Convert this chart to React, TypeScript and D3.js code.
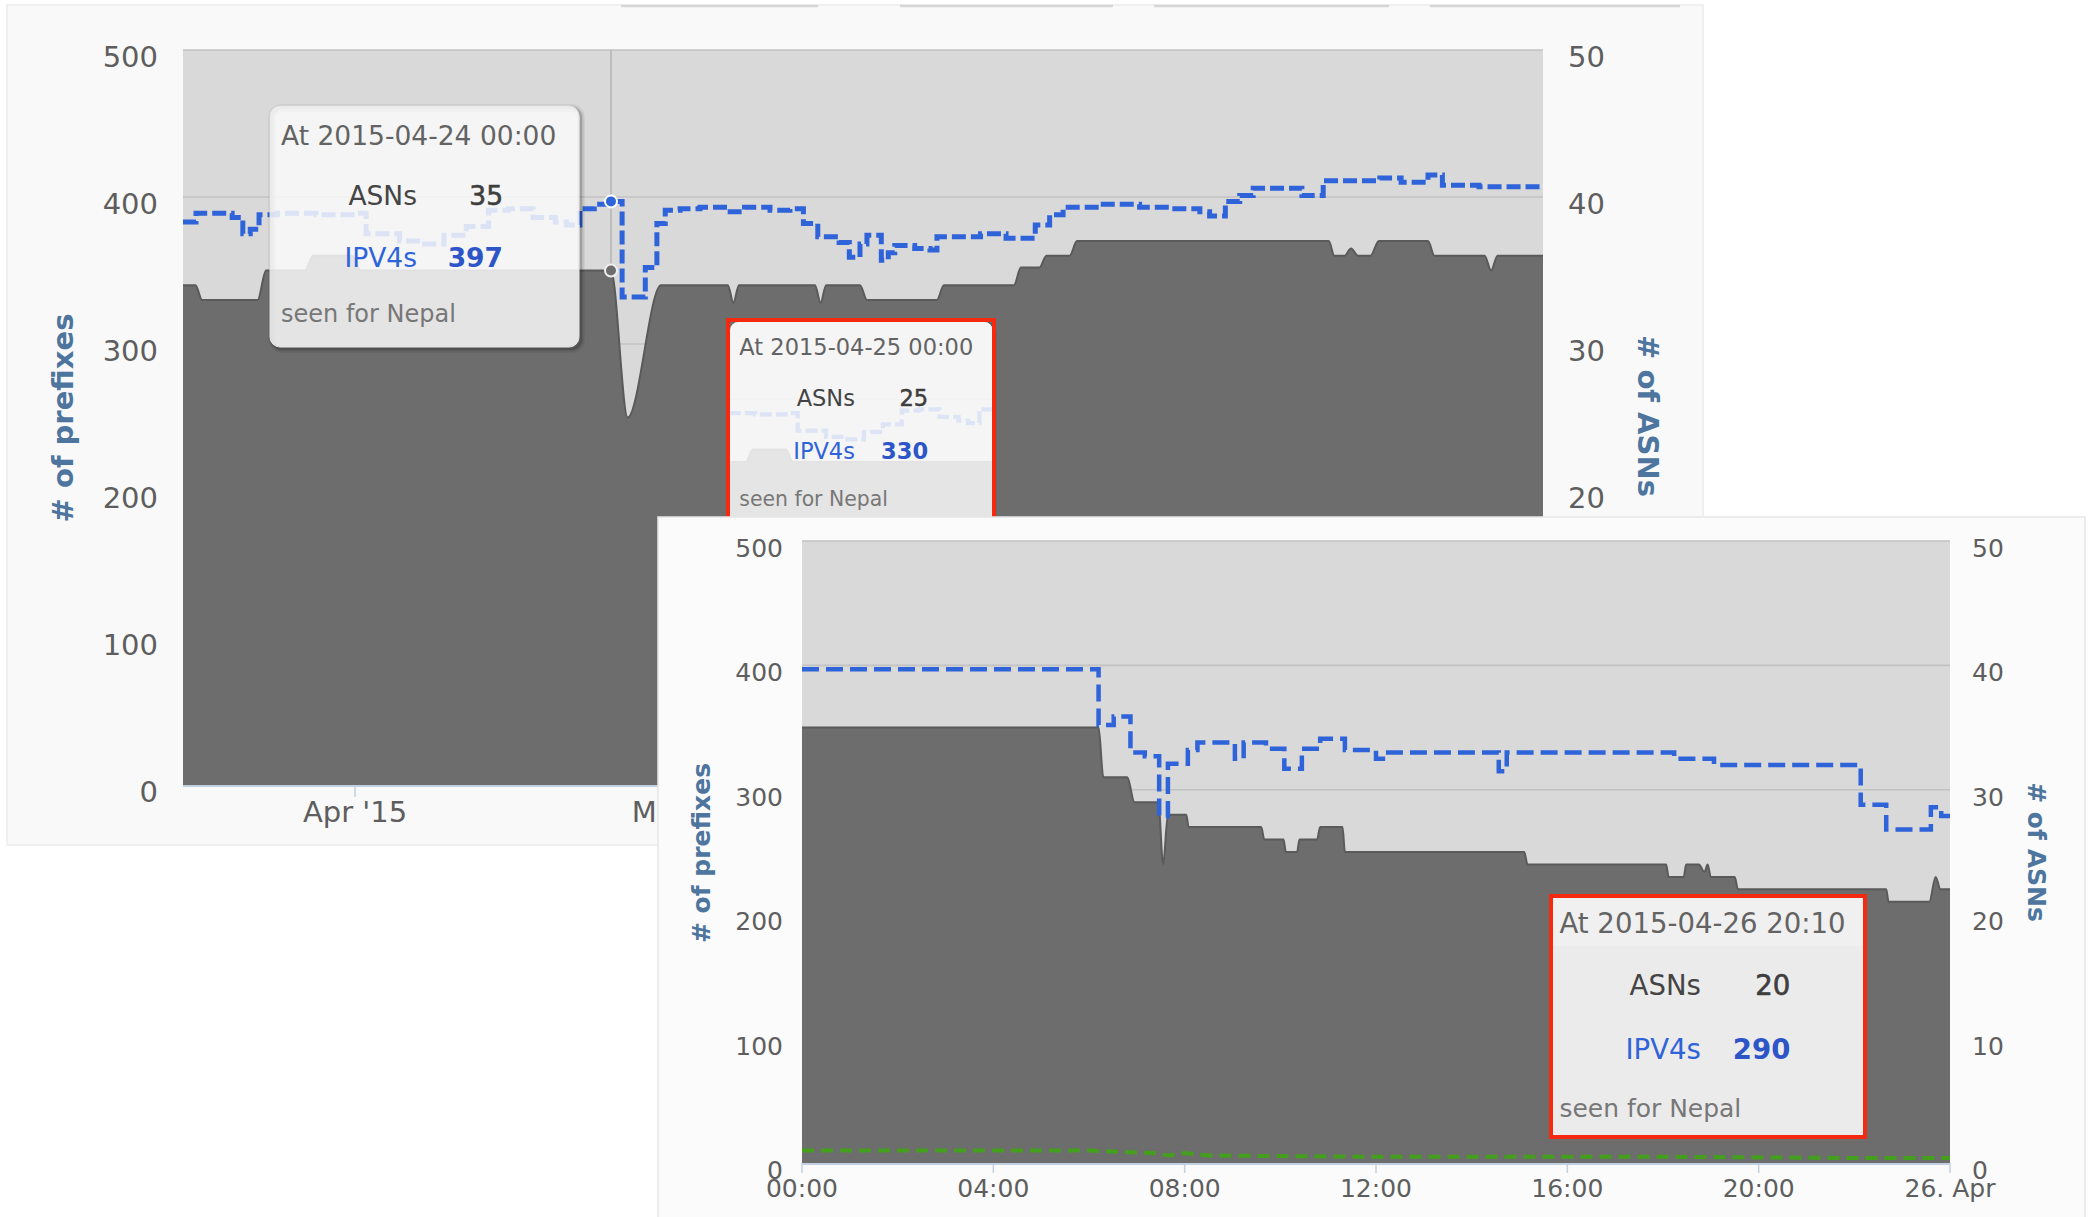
import React from "react";
import * as d3 from "d3";

const FONT = "'DejaVu Sans', Verdana, sans-serif";

// ---------- top chart data (Mar–Jul 2015) ----------
const topDomain = ["2015-03-16 13:00", "2015-07-16 18:00"];
const topXTicks = ["2015-04-01 00:00", "2015-05-01 00:00", "2015-06-01 00:00", "2015-07-01 00:00"];
const topXLabels = ["Apr '15", "May '15", "Jun '15", "Jul '15"];
const prefixTicks = [0, 100, 200, 300, 400, 500];
const asnTicks = [0, 10, 20, 30, 40, 50];

// ASNs (right axis), grey area
const topAsn: [string, number][] = [
  ["2015-03-16 13:00", 34], ["2015-03-17 16:00", 34], ["2015-03-18 06:00", 33], ["2015-03-23 06:00", 33],
  ["2015-03-24 00:00", 35], ["2015-03-27 12:00", 35], ["2015-03-28 06:00", 36], ["2015-03-31 18:00", 36],
  ["2015-04-01 12:00", 35], ["2015-04-24 00:00", 35], ["2015-04-25 12:00", 25], ["2015-04-28 12:00", 34],
  ["2015-05-04 12:00", 34], ["2015-05-05 00:00", 32.8], ["2015-05-05 12:00", 34], ["2015-05-12 08:00", 34],
  ["2015-05-12 20:00", 32.8], ["2015-05-13 08:00", 34], ["2015-05-16 09:00", 34], ["2015-05-17 00:00", 33],
  ["2015-05-23 07:00", 33], ["2015-05-23 22:00", 34], ["2015-05-30 05:00", 34], ["2015-05-30 20:00", 35.2],
  ["2015-06-01 12:00", 35.2], ["2015-06-02 03:00", 36], ["2015-06-04 05:00", 36], ["2015-06-04 21:00", 37],
  ["2015-06-27 12:00", 37], ["2015-06-28 00:00", 36], ["2015-06-28 22:00", 36], ["2015-06-29 12:00", 36.5],
  ["2015-06-30 03:00", 36], ["2015-07-01 06:00", 36], ["2015-07-02 00:00", 37], ["2015-07-06 10:00", 37],
  ["2015-07-07 00:00", 36], ["2015-07-11 12:00", 36], ["2015-07-12 02:00", 35], ["2015-07-12 16:00", 36],
  ["2015-07-16 18:00", 36],
];

// IPV4 prefixes (left axis), blue dashed step line
const topIpv4: [string, number][] = [
  ["2015-03-16 13:00", 383], ["2015-03-17 17:00", 389], ["2015-03-20 23:00", 386], ["2015-03-21 22:00", 375],
  ["2015-03-22 14:00", 378], ["2015-03-23 09:00", 388], ["2015-03-25 00:00", 389], ["2015-03-28 12:00", 388],
  ["2015-04-01 00:00", 389], ["2015-04-02 00:00", 375], ["2015-04-05 00:00", 370], ["2015-04-07 00:00", 368],
  ["2015-04-09 00:00", 374], ["2015-04-11 00:00", 380], ["2015-04-13 00:00", 391], ["2015-04-14 19:00", 392],
  ["2015-04-17 00:00", 386], ["2015-04-19 00:00", 383], ["2015-04-20 00:00", 381], ["2015-04-21 05:00", 392],
  ["2015-04-22 12:00", 395], ["2015-04-24 00:00", 397], ["2015-04-25 00:00", 332], ["2015-04-27 02:00", 352],
  ["2015-04-28 03:00", 382], ["2015-04-28 21:00", 391], ["2015-04-30 05:00", 392], ["2015-05-02 00:00", 393],
  ["2015-05-04 17:00", 390], ["2015-05-06 00:00", 393], ["2015-05-08 07:00", 391], ["2015-05-10 02:00", 392],
  ["2015-05-11 07:00", 382], ["2015-05-12 14:00", 373], ["2015-05-14 12:00", 369], ["2015-05-15 10:00", 359],
  ["2015-05-16 09:00", 368], ["2015-05-17 00:00", 374], ["2015-05-18 07:00", 357], ["2015-05-18 22:00", 362],
  ["2015-05-19 12:00", 367], ["2015-05-21 07:00", 365], ["2015-05-22 16:00", 364], ["2015-05-23 07:00", 373],
  ["2015-05-27 05:00", 375], ["2015-05-29 12:00", 372], ["2015-06-01 03:00", 381], ["2015-06-02 10:00", 388],
  ["2015-06-03 15:00", 393], ["2015-06-06 22:00", 395], ["2015-06-10 12:00", 393], ["2015-06-13 05:00", 392],
  ["2015-06-15 22:00", 390], ["2015-06-16 19:00", 387], ["2015-06-18 05:00", 397], ["2015-06-19 12:00", 401],
  ["2015-06-20 17:00", 406], ["2015-06-25 02:00", 401], ["2015-06-27 00:00", 411], ["2015-07-02 02:00", 413],
  ["2015-07-04 00:00", 410], ["2015-07-06 10:00", 415], ["2015-07-07 17:00", 408], ["2015-07-11 00:00", 407],
  ["2015-07-16 18:00", 408],
];

const hoverTime = "2015-04-24 00:00";
const hoverAsn = 35;
const hoverIpv4 = 397;

// ---------- bottom chart data (25 Apr 2015) ----------
const bottomDomain = ["2015-04-25 00:00", "2015-04-26 00:00"];
const bottomXTicks = ["2015-04-25 00:00", "2015-04-25 04:00", "2015-04-25 08:00", "2015-04-25 12:00", "2015-04-25 16:00", "2015-04-25 20:00", "2015-04-26 00:00"];
const bottomXLabels = ["00:00", "04:00", "08:00", "12:00", "16:00", "20:00", "26. Apr"];

const bottomAsn: [string, number][] = [
  ["2015-04-25 00:00", 35], ["2015-04-25 06:12", 35], ["2015-04-25 06:18", 31], ["2015-04-25 06:48", 31],
  ["2015-04-25 06:57", 29], ["2015-04-25 07:27", 29], ["2015-04-25 07:33", 24], ["2015-04-25 07:39", 28],
  ["2015-04-25 08:02", 28], ["2015-04-25 08:05", 27], ["2015-04-25 09:36", 27], ["2015-04-25 09:40", 26],
  ["2015-04-25 10:04", 26], ["2015-04-25 10:07", 25], ["2015-04-25 10:21", 25], ["2015-04-25 10:24", 26],
  ["2015-04-25 10:46", 26], ["2015-04-25 10:50", 27], ["2015-04-25 11:18", 27], ["2015-04-25 11:21", 25],
  ["2015-04-25 15:06", 25], ["2015-04-25 15:10", 24], ["2015-04-25 18:04", 24], ["2015-04-25 18:07", 23],
  ["2015-04-25 18:26", 23], ["2015-04-25 18:29", 24], ["2015-04-25 18:45", 24], ["2015-04-25 18:52", 23.4],
  ["2015-04-25 18:56", 24], ["2015-04-25 19:00", 23], ["2015-04-25 19:30", 23], ["2015-04-25 19:34", 22],
  ["2015-04-25 22:40", 22], ["2015-04-25 22:43", 21], ["2015-04-25 23:34", 21], ["2015-04-25 23:42", 23],
  ["2015-04-25 23:48", 22], ["2015-04-26 00:00", 22],
];

const bottomIpv4: [string, number][] = [
  ["2015-04-25 00:00", 397], ["2015-04-25 06:12", 352], ["2015-04-25 06:31", 359], ["2015-04-25 06:52", 330],
  ["2015-04-25 07:10", 327], ["2015-04-25 07:28", 279], ["2015-04-25 07:39", 321], ["2015-04-25 08:04", 332],
  ["2015-04-25 08:16", 338], ["2015-04-25 09:03", 325], ["2015-04-25 09:14", 338], ["2015-04-25 09:42", 333],
  ["2015-04-25 10:05", 317], ["2015-04-25 10:27", 333], ["2015-04-25 10:50", 341], ["2015-04-25 11:21", 332],
  ["2015-04-25 12:00", 325], ["2015-04-25 12:12", 330], ["2015-04-25 14:34", 315], ["2015-04-25 14:44", 330],
  ["2015-04-25 18:14", 325], ["2015-04-25 19:04", 320], ["2015-04-25 22:08", 288], ["2015-04-25 22:40", 268],
  ["2015-04-25 23:36", 286], ["2015-04-25 23:49", 279], ["2015-04-26 00:00", 279],
];

const bottomOther: [string, number][] = [
  ["2015-04-25 00:00", 10], ["2015-04-25 06:00", 10], ["2015-04-25 07:20", 8], ["2015-04-25 07:40", 6],
  ["2015-04-25 08:00", 8], ["2015-04-25 08:30", 6], ["2015-04-25 12:00", 5], ["2015-04-25 18:00", 5],
  ["2015-04-25 22:00", 4], ["2015-04-26 00:00", 4],
];

// ---------- tooltip texts ----------
const tipHeaders = ["At 2015-04-24 00:00", "At 2015-04-25 00:00", "At 2015-04-26 20:10"];
const tipAsns = [35, 25, 20];
const tipIpv4s = [397, 330, 290];
const tipFooter = "seen for Nepal";

const parse = d3.timeParse("%Y-%m-%d %H:%M");
type P = { t: Date; v: number };
const toPts = (arr: [string, number][]): P[] => arr.map(([t, v]) => ({ t: parse(t) as Date, v }));

const BLUE = "#2f63d9";
const GREY = "#6d6d6d";
const LABEL = "#5e5e5e";
const TITLE = "#4d759e";
const RED = "#f4290f";

function Tip({ x, y, s, i }: { x: number; y: number; s: number; i: number }) {
  return (
    <g transform={`translate(${x},${y}) scale(${s})`} fontFamily={FONT}>
      <text x={11} y={39} fontSize={26.5} fill="#636363">{tipHeaders[i]}</text>
      <text x={147} y={99} fontSize={26.5} fill="#444" textAnchor="end">ASNs</text>
      <text x={233} y={99} fontSize={26.5} fill="#3e3e3e" textAnchor="end" stroke="#3e3e3e" strokeWidth={0.6}>{tipAsns[i]}</text>
      <text x={147} y={161} fontSize={26.5} fill={BLUE} textAnchor="end">IPV4s</text>
      <text x={233} y={161} fontSize={26.5} fill="#2d55c8" fontWeight="bold" textAnchor="end">{tipIpv4s[i]}</text>
      <text x={11} y={216} fontSize={24} fill="#777">{tipFooter}</text>
    </g>
  );
}

export default function App() {
  // ---- top chart scales ----
  const T = { l: 183, r: 1543, t: 50, b: 785 };
  const tx = d3.scaleTime().domain(topDomain.map((s) => parse(s) as Date)).range([T.l, T.r]);
  const tyL = d3.scaleLinear().domain([0, 500]).range([T.b, T.t]);
  const tyR = d3.scaleLinear().domain([0, 50]).range([T.b, T.t]);
  const tAsn = toPts(topAsn);
  const tIp = toPts(topIpv4);
  const topArea = d3.area<P>().x((d) => tx(d.t)).y0(T.b).y1((d) => tyR(d.v)).curve(d3.curveMonotoneX)(tAsn) || "";
  const topEdge = d3.line<P>().x((d) => tx(d.t)).y((d) => tyR(d.v)).curve(d3.curveMonotoneX)(tAsn) || "";
  const topLine = d3.line<P>().x((d) => tx(d.t)).y((d) => tyL(d.v)).curve(d3.curveStepAfter)(tIp) || "";
  const hx = tx(parse(hoverTime) as Date);

  // ---- bottom chart scales ----
  const B = { l: 802, r: 1950, t: 541, b: 1163 };
  const bx = d3.scaleTime().domain(bottomDomain.map((s) => parse(s) as Date)).range([B.l, B.r]);
  const byL = d3.scaleLinear().domain([0, 500]).range([B.b, B.t]);
  const byR = d3.scaleLinear().domain([0, 50]).range([B.b, B.t]);
  const bAsn = toPts(bottomAsn);
  const bIp = toPts(bottomIpv4);
  const bOt = toPts(bottomOther);
  const botArea = d3.area<P>().x((d) => bx(d.t)).y0(B.b).y1((d) => byR(d.v)).curve(d3.curveMonotoneX)(bAsn) || "";
  const botEdge = d3.line<P>().x((d) => bx(d.t)).y((d) => byR(d.v)).curve(d3.curveMonotoneX)(bAsn) || "";
  const botLine = d3.line<P>().x((d) => bx(d.t)).y((d) => byL(d.v)).curve(d3.curveStepAfter)(bIp) || "";
  const botOther = d3.line<P>().x((d) => bx(d.t)).y((d) => byL(d.v)).curve(d3.curveLinear)(bOt) || "";

  const topPlot = (withCross: boolean) => (
    <g>
      <rect x={T.l} y={T.t} width={T.r - T.l} height={T.b - T.t} fill="#d9d9d9" />
      {prefixTicks.map((v) => (
        <line key={v} x1={T.l} x2={T.r} y1={tyL(v)} y2={tyL(v)} stroke="#c2c2c2" strokeWidth={1.6} />
      ))}
      {withCross && <line x1={hx} x2={hx} y1={T.t} y2={T.b} stroke="#b5b5b5" strokeWidth={1.5} />}
      <path d={topArea} fill={GREY} />
      <path d={topEdge} fill="none" stroke="#5a5a5a" strokeWidth={2} />
      <path d={topLine} fill="none" stroke={BLUE} strokeWidth={5} strokeDasharray="14 5" />
    </g>
  );

  const tip1 = { x: 270, y: 106, w: 309, h: 241 };

  return (
    <svg width={2091} height={1217} style={{ position: "absolute", left: 0, top: 0 }} fontFamily={FONT}>
      <defs>
        <clipPath id="topClip">
          <rect x={T.l} y={T.t - 3} width={T.r - T.l} height={T.b - T.t + 3} />
        </clipPath>
        <clipPath id="botClip">
          <rect x={B.l} y={B.t - 3} width={B.r - B.l} height={B.b - B.t + 3} />
        </clipPath>
        <clipPath id="tip2Clip">
          <rect x={0} y={0} width={tip1.w} height={tip1.h} rx={10} />
        </clipPath>
        <clipPath id="tip3Clip">
          <rect x={1551} y={896} width={314} height={241} />
        </clipPath>
      </defs>
      <rect x={0} y={0} width={2091} height={1217} fill="#ffffff" />

      {/* ===== top panel ===== */}
      <rect x={7} y={5} width={1696} height={840} fill="#f9f9f9" stroke="#ebebeb" strokeWidth={1.5} />
      {[[621, 818], [900, 1113], [1154, 1389], [1430, 1680]].map(([a, b], i) => (
        <line key={i} x1={a} x2={b} y1={6} y2={6} stroke="#d6d6d6" strokeWidth={2.5} />
      ))}
      <g clipPath="url(#topClip)">{topPlot(true)}</g>
      <circle cx={hx} cy={tyR(hoverAsn)} r={6} fill={GREY} stroke="#eeeeee" strokeWidth={2} />
      <circle cx={hx} cy={tyL(hoverIpv4)} r={6} fill={BLUE} stroke="#ffffff" strokeWidth={2} />
      <line x1={T.l} x2={T.r} y1={T.b + 1} y2={T.b + 1} stroke="#c0d0e0" strokeWidth={2} />
      {topXTicks.map((t, i) => {
        const x = tx(parse(t) as Date);
        return (
          <g key={t}>
            <line x1={x} x2={x} y1={T.b} y2={T.b + 12} stroke="#c0d0e0" strokeWidth={1.5} />
            <text x={x} y={822} fontSize={29} fill={LABEL} textAnchor="middle">{topXLabels[i]}</text>
          </g>
        );
      })}
      {prefixTicks.map((v) => (
        <text key={v} x={158} y={tyL(v) + 17} fontSize={29} fill={LABEL} textAnchor="end">{v}</text>
      ))}
      {asnTicks.map((v) => (
        <text key={v} x={1568} y={tyR(v) + 17} fontSize={29} fill={LABEL}>{v}</text>
      ))}
      <text transform="translate(63,418) rotate(-90)" dy="0.35em" fontSize={29} fontWeight="bold" fill={TITLE} textAnchor="middle"># of prefixes</text>
      <text transform="translate(1648,416) rotate(90)" dy="0.35em" fontSize={29} fontWeight="bold" fill={TITLE} textAnchor="middle"># of ASNs</text>

      {/* tooltip 1 */}
      <g transform={`translate(${tip1.x + 2},${tip1.y + 2})`} fill="none" stroke="#000">
        <rect width={tip1.w} height={tip1.h} rx={10} strokeOpacity={0.05} strokeWidth={8} />
        <rect width={tip1.w} height={tip1.h} rx={10} strokeOpacity={0.09} strokeWidth={5} />
        <rect width={tip1.w} height={tip1.h} rx={10} strokeOpacity={0.14} strokeWidth={2} />
      </g>
      <rect x={tip1.x} y={tip1.y} width={tip1.w} height={tip1.h} rx={10} fill="rgba(249,249,249,0.85)" stroke="#e2e2e2" strokeWidth={1} />
      <Tip x={tip1.x} y={tip1.y} s={1} i={0} />

      {/* tooltip 2 (pasted, red frame) */}
      <rect x={726} y={318} width={270} height={214} fill={GREY} />
      <g transform="translate(730,322) scale(0.85)">
        <g transform="translate(2,2)" fill="none" stroke="#000">
          <rect width={tip1.w} height={tip1.h} rx={10} strokeOpacity={0.12} strokeWidth={5} />
        </g>
        <g clipPath="url(#tip2Clip)">
          <g transform="translate(-286.5,-106)">{topPlot(false)}</g>
          <rect x={0} y={0} width={tip1.w} height={tip1.h} fill="rgba(249,249,249,0.86)" />
        </g>
      </g>
      <Tip x={730} y={322} s={0.85} i={1} />
      <rect x={728} y={320} width={266} height={210} fill="none" stroke={RED} strokeWidth={4} />

      {/* ===== bottom panel ===== */}
      <rect x={658} y={517} width={1427} height={705} fill="#fbfbfb" stroke="#e6e6e6" strokeWidth={1.5} />
      <g clipPath="url(#botClip)">
        <rect x={B.l} y={B.t} width={B.r - B.l} height={B.b - B.t} fill="#d9d9d9" />
        {prefixTicks.map((v) => (
          <line key={v} x1={B.l} x2={B.r} y1={byL(v)} y2={byL(v)} stroke="#c2c2c2" strokeWidth={1.6} />
        ))}
        <path d={botArea} fill={GREY} />
        <path d={botEdge} fill="none" stroke="#5a5a5a" strokeWidth={2} />
        <path d={botOther} fill="none" stroke="#44a01c" strokeWidth={4} strokeDasharray="12 7" />
        <path d={botLine} fill="none" stroke={BLUE} strokeWidth={4.5} strokeDasharray="17 7" />
      </g>
      <line x1={B.l} x2={B.r} y1={B.b + 1} y2={B.b + 1} stroke="#c0d0e0" strokeWidth={2} />
      {bottomXTicks.map((t, i) => {
        const x = bx(parse(t) as Date);
        return (
          <g key={t}>
            <line x1={x} x2={x} y1={B.b} y2={B.b + 10} stroke="#c0d0e0" strokeWidth={1.5} />
            <text x={x} y={1197} fontSize={25} fill={LABEL} textAnchor="middle">{bottomXLabels[i]}</text>
          </g>
        );
      })}
      {prefixTicks.map((v) => (
        <text key={v} x={783} y={byL(v) + 16} fontSize={25} fill={LABEL} textAnchor="end">{v}</text>
      ))}
      {asnTicks.map((v) => (
        <text key={v} x={1972} y={byR(v) + 16} fontSize={25} fill={LABEL}>{v}</text>
      ))}
      <text transform="translate(701,853) rotate(-90)" dy="0.35em" fontSize={25} fontWeight="bold" fill={TITLE} textAnchor="middle"># of prefixes</text>
      <text transform="translate(2037,852) rotate(90)" dy="0.35em" fontSize={25} fontWeight="bold" fill={TITLE} textAnchor="middle"># of ASNs</text>

      {/* tooltip 3 (pasted, red frame) */}
      <g clipPath="url(#tip3Clip)">
        <rect x={1551} y={896} width={314} height={241} fill="#ebebeb" />
        <rect x={1551} y={896} width={314} height={50} fill="#f0f0f0" />
      </g>
      <Tip x={1548} y={892} s={1.04} i={2} />
      <rect x={1551} y={896} width={314} height={241} fill="none" stroke={RED} strokeWidth={4} />
    </svg>
  );
}
